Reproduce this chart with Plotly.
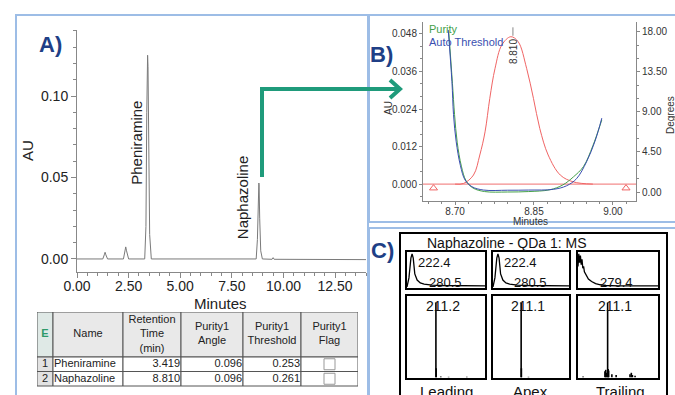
import plotly.graph_objects as go

W, H = 675, 395
def px(x): return x / W
def py(y): return 1 - y / H

FONT = "Liberation Sans, Arial, sans-serif"
PANEL_BLUE = "#9dbde6"
LABEL_BLUE = "#203f86"
ARROW = "#1f9b7b"

# ---------------- Panel A: chromatogram ----------------
chrom_time = [0.0, 1.25, 1.32, 1.36, 1.40, 1.48, 2.25, 2.32, 2.36, 2.40, 2.50,
              3.28, 3.34, 3.38, 3.40, 3.42, 3.44, 3.47, 3.52, 3.60,
              8.68, 8.74, 8.78, 8.80, 8.81, 8.82, 8.85, 8.90, 8.98,
              9.45, 9.50, 9.55, 14.0]
chrom_au = [0.0, 0.0, 0.0025, 0.0041, 0.0025, 0.0, 0.0, 0.0045, 0.0074, 0.005, 0.0,
            0.0, 0.02, 0.09, 0.118, 0.125, 0.118, 0.07, 0.015, 0.0,
            0.0, 0.012, 0.038, 0.0455, 0.0466, 0.0455, 0.025, 0.005, 0.0,
            -0.0002, 0.0008, -0.0002, -0.0004]
peak_names = ["Pheniramine", "Naphazoline"]
peak_label_time = [2.9, 8.0]
peak_label_au = [0.0712, 0.0374]

# ---------------- Table ----------------
tbl_headers = ["<b>E</b>", "Name", "Retention<br>Time<br>(min)", "Purity1<br>Angle",
               "Purity1<br>Threshold", "Purity1<br>Flag"]
tbl_index = ["1", "2"]
tbl_name = ["Pheniramine", "Naphazoline"]
tbl_rt = ["3.419", "8.810"]
tbl_angle = ["0.096", "0.096"]
tbl_thresh = ["0.253", "0.261"]
tbl_flag = [False, False]

# ---------------- Panel B: purity plot ----------------
red_time = [8.700, 8.716, 8.735, 8.747, 8.757, 8.766, 8.776, 8.789, 8.806, 8.820,
            8.836, 8.849, 8.861, 8.877, 8.900, 8.925, 8.962]
red_au = [0.0, 0.0002, 0.0029, 0.0093, 0.0167, 0.0274, 0.037, 0.0445, 0.0471, 0.0455,
          0.037, 0.0274, 0.0178, 0.0093, 0.0029, 0.0007, 0.0]
baseline_time = [8.639, 9.044]
baseline_au = [0.0, 0.0]
marker_time = [8.659, 9.025]
marker_au = [-0.0013, -0.0013]
apex_time = 8.810
apex_label = "8.810"

thr_time = [8.687, 8.694, 8.697, 8.702, 8.710, 8.719, 8.732, 8.754, 8.800, 8.840,
            8.887, 8.912, 8.931, 8.950, 8.966, 8.979]
thr_deg = [18.2, 12.4, 8.7, 5.7, 3.0, 1.35, 0.6, 0.22, 0.2, 0.22,
           0.3, 0.7, 1.5, 3.4, 5.7, 8.3]
pur_time = [8.688, 8.695, 8.699, 8.704, 8.712, 8.721, 8.734, 8.756, 8.800, 8.840,
            8.880, 8.905, 8.925, 8.944, 8.962, 8.979]
pur_deg = [18.0, 12.2, 8.7, 5.6, 2.9, 1.25, 0.45, 0.05, 0.0, 0.05,
           0.25, 0.8, 1.7, 2.85, 5.2, 8.1]

# ---------------- Panel C: QDa MS ----------------
tic_x = [[0, 2.5, 5, 6.5, 8, 10, 13, 17, 22, 32, 45, 64, 100],
         [0, 2.5, 5, 6.5, 8, 10, 13, 17, 22, 32, 45, 64, 100],
         [0, 1, 2, 3, 4, 5, 6, 7, 8, 10, 13, 17, 22, 28, 35, 50, 100]]
tic_y = [[3, 28, 83, 95, 83, 39, 22, 14, 11, 8, 7, 6, 6],
         [3, 28, 83, 95, 83, 39, 22, 14, 11, 8, 7, 6, 6],
         [60, 95, 70, 90, 65, 80, 55, 60, 45, 35, 25, 18, 12, 9, 7, 6, 6]]
tic_labels_hi = ["222.4", "222.4", ""]
tic_labels_lo = ["280.5", "280.5", "279.4"]

ms_mz = [[211.2, 212.2, 230, 260, 330],
         [211.1, 212.1, 240],
         [119, 201, 204, 207, 211.1, 213, 215, 227, 243, 295, 300, 304, 314]]
ms_int = [[100, 12, 1, 0.6, 0.6],
          [100, 12, 0.6],
          [1, 8, 10, 6, 100, 11, 9, 4, 3, 4, 6, 3, 2]]
ms_base = ["211.2", "211.1", "211.1"]
ms_names = ["Leading", "Apex", "Trailing"]
ms_title = "Naphazoline - QDa 1: MS"

fig = go.Figure()

# Panel A trace
fig.add_trace(go.Scatter(x=chrom_time, y=chrom_au, mode="lines",
                         line=dict(color="#7a7a7a", width=1), xaxis="x", yaxis="y",
                         showlegend=False, hoverinfo="skip"))

# Panel B traces
fig.add_trace(go.Scatter(x=baseline_time, y=baseline_au, mode="lines",
                         line=dict(color="#f07070", width=1), xaxis="x2", yaxis="y2",
                         showlegend=False, hoverinfo="skip"))
fig.add_trace(go.Scatter(x=red_time, y=red_au, mode="lines", line_shape="spline",
                         line=dict(color="#f06464", width=1), xaxis="x2", yaxis="y2",
                         showlegend=False, hoverinfo="skip"))
fig.add_trace(go.Scatter(x=marker_time, y=marker_au, mode="markers",
                         marker=dict(symbol="triangle-up-open", size=7, color="#f06464"),
                         xaxis="x2", yaxis="y2", showlegend=False, hoverinfo="skip"))
fig.add_trace(go.Scatter(x=pur_time, y=pur_deg, mode="lines", line_shape="spline",
                         line=dict(color="#45a04a", width=1), xaxis="x2", yaxis="y3",
                         showlegend=False, hoverinfo="skip"))
fig.add_trace(go.Scatter(x=thr_time, y=thr_deg, mode="lines", line_shape="spline",
                         line=dict(color="#3a4fb0", width=1), xaxis="x2", yaxis="y3",
                         showlegend=False, hoverinfo="skip"))

# Panel C
col_x = [(407, 485), (493, 569), (578, 658)]
top_y = (252, 288)
bot_y = (296, 378)
axis_common = dict(showticklabels=False, ticks="", showgrid=False, zeroline=False,
                   showline=True, linecolor="black", linewidth=2, mirror=True,
                   automargin=False)
layout_axes = {}
for i in range(3):
    xa_top = 3 + 2 * i
    xa_bot = 4 + 2 * i
    ya_top = 4 + 2 * i
    ya_bot = 5 + 2 * i
    layout_axes[f"xaxis{xa_top}"] = dict(domain=[px(col_x[i][0]), px(col_x[i][1])],
                                         range=[0, 100], anchor=f"y{ya_top}", **axis_common)
    layout_axes[f"yaxis{ya_top}"] = dict(domain=[py(top_y[1]), py(top_y[0])],
                                         range=[0, 100], anchor=f"x{xa_top}", **axis_common)
    layout_axes[f"xaxis{xa_bot}"] = dict(domain=[px(col_x[i][0]), px(col_x[i][1])],
                                         range=[100, 400], anchor=f"y{ya_bot}", **axis_common)
    layout_axes[f"yaxis{ya_bot}"] = dict(domain=[py(bot_y[1]), py(bot_y[0])],
                                         range=[-1, 109], anchor=f"x{xa_bot}", **axis_common)
    fig.add_trace(go.Scatter(x=tic_x[i], y=tic_y[i], mode="lines",
                             line=dict(color="black", width=1.3),
                             xaxis=f"x{xa_top}", yaxis=f"y{ya_top}",
                             showlegend=False, hoverinfo="skip"))
    xs, ys = [], []
    for m, v in zip(ms_mz[i], ms_int[i]):
        xs += [m, m, None]
        ys += [0, v, None]
    fig.add_trace(go.Scatter(x=xs, y=ys, mode="lines",
                             line=dict(color="black", width=1.6),
                             xaxis=f"x{xa_bot}", yaxis=f"y{ya_bot}",
                             showlegend=False, hoverinfo="skip"))

shapes = []

# ---------------- Table drawn on its own axes (x9 / y10) ----------------
COLW = [16, 70, 58, 62, 58, 57]
HEAD_H = 45
ROW_H = 14.5
edges = [0]
for w in COLW:
    edges.append(edges[-1] + w)
n_rows = len(tbl_name)
layout_axes["xaxis9"] = dict(domain=[px(37), px(37 + edges[-1])], range=[0, edges[-1]],
                             anchor="y10", visible=False, automargin=False)
layout_axes["yaxis10"] = dict(domain=[0, py(312)], range=[83, 0], anchor="x9",
                              visible=False, automargin=False)
for c in range(len(COLW)):
    shapes.append(dict(type="rect", xref="x9", yref="y10", x0=edges[c], x1=edges[c + 1],
                       y0=0, y1=HEAD_H, fillcolor="#e9e9e9" if c else "#dfe9e6",
                       line=dict(color="#555", width=1), layer="below"))
    for r in range(n_rows):
        shapes.append(dict(type="rect", xref="x9", yref="y10", x0=edges[c], x1=edges[c + 1],
                           y0=HEAD_H + r * ROW_H, y1=HEAD_H + (r + 1) * ROW_H,
                           fillcolor="#e2e2e2" if c == 0 else "white",
                           line=dict(color="#555", width=1), layer="below"))
centers = [(edges[c] + edges[c + 1]) / 2 for c in range(len(COLW))]
tx, ty, tt, tp, tc = [], [], [], [], []
for c, h in enumerate(tbl_headers):
    tx.append(centers[c]); ty.append(HEAD_H / 2); tt.append(h); tp.append("middle center")
    tc.append("#2e9a6a" if c == 0 else "#222")
for r in range(n_rows):
    yc = HEAD_H + (r + 0.5) * ROW_H
    tx.append(centers[0]); ty.append(yc); tt.append(tbl_index[r]); tp.append("middle center"); tc.append("#222")
    tx.append(edges[1] + 1); ty.append(yc); tt.append(tbl_name[r]); tp.append("middle right"); tc.append("#222")
    for c, col in ((2, tbl_rt), (3, tbl_angle), (4, tbl_thresh)):
        tx.append(edges[c + 1] - 1); ty.append(yc); tt.append(col[r]); tp.append("middle left"); tc.append("#222")
fig.add_trace(go.Scatter(x=tx, y=ty, text=tt, mode="text", textposition=tp,
                         textfont=dict(family=FONT, size=11, color=tc),
                         xaxis="x9", yaxis="y10", showlegend=False, hoverinfo="skip",
                         cliponaxis=False))
fig.add_trace(go.Scatter(x=[centers[5]] * n_rows,
                         y=[HEAD_H + (r + 0.5) * ROW_H for r in range(n_rows)],
                         mode="markers",
                         marker=dict(symbol="square", size=11,
                                     color=["#5a5" if f else "white" for f in tbl_flag],
                                     line=dict(color="#999", width=1)),
                         xaxis="x9", yaxis="y10", showlegend=False, hoverinfo="skip",
                         cliponaxis=False))

annotations = []
def ann(text, x, y, size, color="#222", angle=0, bold=False, xref="paper", yref="paper",
        xanchor="center", yanchor="middle"):
    if bold:
        text = f"<b>{text}</b>"
    annotations.append(dict(text=text, x=x, y=y, xref=xref, yref=yref, showarrow=False,
                            textangle=angle, xanchor=xanchor, yanchor=yanchor,
                            font=dict(family=FONT, size=size, color=color)))

# Panel A labels
ann("A)", px(50), py(45), 22, LABEL_BLUE, bold=True)
ann("AU", px(27), py(151), 15, angle=-90)
ann("Minutes", px(220), py(303), 15)
for name, t, a in zip(peak_names, peak_label_time, peak_label_au):
    ann(name, t, a, 15, angle=-90, xref="x", yref="y")

# Panel B labels
ann("B)", px(381), py(55), 22, LABEL_BLUE, bold=True)
ann("Purity", px(427), py(29), 11, "#45a04a", xanchor="left")
ann("Auto Threshold", px(427), py(42), 11, "#3a4fb0", xanchor="left")
ann(apex_label, apex_time, 0.0425, 10, "#333", angle=-90, xref="x2", yref="y2")
ann("AU", px(388), py(108), 10, "#333", angle=-90)
ann("Degrees", px(670), py(115), 10, "#333", angle=-90)
ann("Minutes", px(530), py(221), 10, "#333")

# Panel C labels
ann("C)", px(382), py(250), 22, LABEL_BLUE, bold=True)
ann(ms_title, px(507), py(243), 14, "#111")
for i in range(3):
    xa_top = 3 + 2 * i
    xa_bot = 4 + 2 * i
    ya_top = 4 + 2 * i
    ya_bot = 5 + 2 * i
    if tic_labels_hi[i]:
        ann(tic_labels_hi[i], 12, 72, 13, "#111", xref=f"x{xa_top}", yref=f"y{ya_top}",
            xanchor="left")
    ann(tic_labels_lo[i], 25, 14, 13, "#111", xref=f"x{xa_top}", yref=f"y{ya_top}",
        xanchor="left")
    ann(ms_base[i], 238, 96, 14, "#111", xref=f"x{xa_bot}", yref=f"y{ya_bot}")
    ann(ms_names[i], px([446, 530, 620][i]), py(391), 15, "#111")

def rect(x0, y0, x1, y1, color, width):
    shapes.append(dict(type="rect", xref="paper", yref="paper", x0=px(x0), x1=px(x1),
                       y0=py(y1), y1=py(y0), line=dict(color=color, width=width),
                       fillcolor="rgba(0,0,0,0)", layer="below"))
rect(16, 15, 368, 402, PANEL_BLUE, 2)
rect(369, 15, 680, 222, PANEL_BLUE, 2)
rect(369, 228, 680, 402, PANEL_BLUE, 2)
rect(400, 233, 667, 402, "black", 2)

# green arrow
shapes.append(dict(type="path", xref="paper", yref="paper",
                   path=f"M {px(262)},{py(177)} L {px(262)},{py(89)} L {px(398)},{py(89)}",
                   line=dict(color=ARROW, width=4)))
shapes.append(dict(type="path", xref="paper", yref="paper",
                   path=f"M {px(390)},{py(80)} L {px(400)},{py(89)} L {px(390)},{py(98)}",
                   line=dict(color=ARROW, width=4)))
# apex tick in B
shapes.append(dict(type="line", xref="x2", yref="y2", x0=apex_time, x1=apex_time,
                   y0=max(red_au) + 0.0003, y1=max(red_au) + 0.003,
                   line=dict(color="#888", width=1)))

tickA = dict(family=FONT, size=14, color="#222")
tickB = dict(family=FONT, size=10, color="#333")
fig.update_layout(
    template="none",
    width=W, height=H, autosize=False,
    margin=dict(l=0, r=0, t=0, b=0, pad=0),
    paper_bgcolor="white", plot_bgcolor="rgba(0,0,0,0)",
    showlegend=False,
    xaxis=dict(domain=[px(77), px(366)], range=[0, 14.0], anchor="y", automargin=False,
               showline=True, linecolor="#888", linewidth=1, showgrid=False, zeroline=False,
               ticks="outside", ticklen=5, tickcolor="#888", tick0=0, dtick=2.5,
               tickformat=".2f", tickfont=tickA, ticklabelstandoff=-4,
               minor=dict(ticks="outside", ticklen=3, dtick=0.5, tickcolor="#888", showgrid=False)),
    yaxis=dict(domain=[py(272), py(30)], range=[-0.008, 0.1405], anchor="x", automargin=False,
               showline=True, linecolor="#888", linewidth=1, showgrid=False, zeroline=False,
               ticks="outside", ticklen=5, tickcolor="#888", tick0=0, dtick=0.05,
               tickformat=".2f", tickfont=tickA,
               minor=dict(ticks="outside", ticklen=3, dtick=0.01, tickcolor="#888", showgrid=False)),
    xaxis2=dict(domain=[px(423), px(636)], range=[8.639, 9.044], anchor="y2", automargin=False,
                showline=True, linecolor="#888", linewidth=1, showgrid=False, zeroline=False,
                ticks="outside", ticklen=3, tickcolor="#888", tick0=8.7, dtick=0.15,
                tickformat=".2f", tickfont=tickB, ticklabelstandoff=-2,
                minor=dict(ticks="outside", ticklen=2, dtick=0.025, tickcolor="#888", showgrid=False)),
    yaxis2=dict(domain=[py(201), py(22)], range=[-0.0054, 0.0518], anchor="x2", automargin=False,
                showline=True, linecolor="#888", linewidth=1, showgrid=False, zeroline=False,
                ticks="outside", ticklen=3, tickcolor="#888", tick0=0, dtick=0.012,
                tickformat=".3f", tickfont=tickB,
                minor=dict(ticks="outside", ticklen=2, dtick=0.004, tickcolor="#888", showgrid=False)),
    yaxis3=dict(domain=[py(201), py(22)], range=[-1.01, 19.1], anchor="x2", automargin=False,
                overlaying="y2", side="right",
                showline=True, linecolor="#888", linewidth=1, showgrid=False, zeroline=False,
                ticks="outside", ticklen=3, tickcolor="#888", tick0=0, dtick=4.5,
                tickformat=".2f", tickfont=tickB,
                minor=dict(ticks="outside", ticklen=2, dtick=1.5, tickcolor="#888", showgrid=False)),
    annotations=annotations,
    shapes=shapes,
    **layout_axes,
)

fig.write_html("out.html", config={"displayModeBar": False},
               post_script="document.body.style.margin='0';document.body.style.overflow='hidden';")
